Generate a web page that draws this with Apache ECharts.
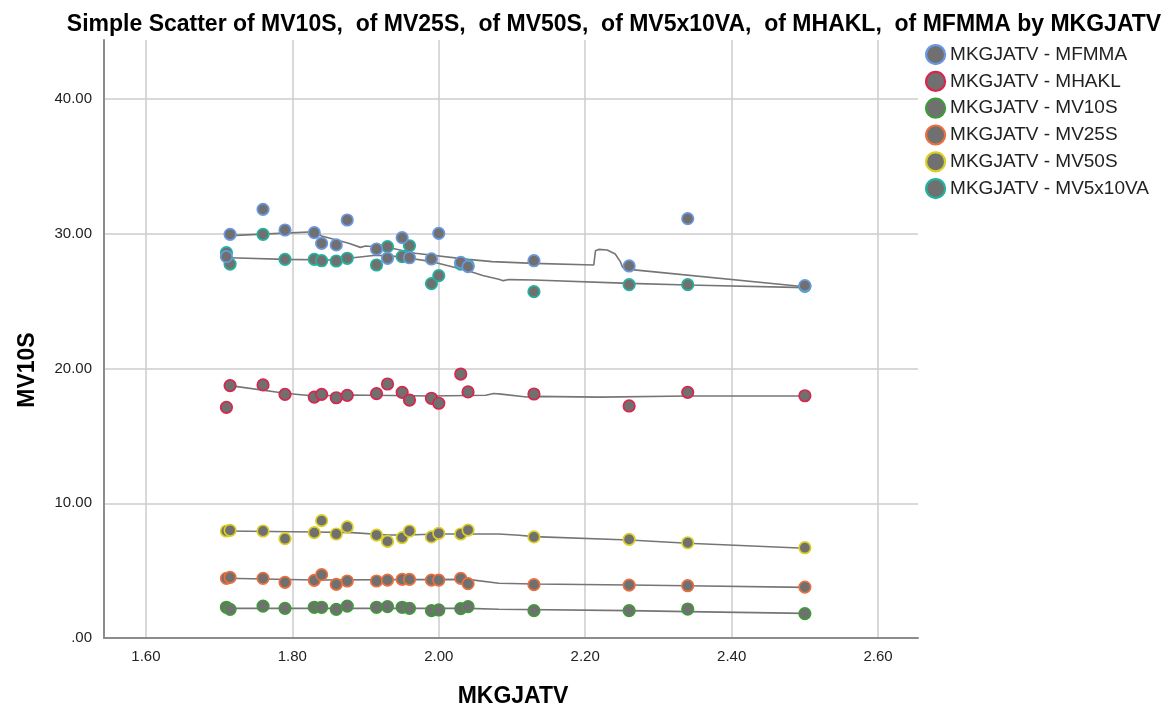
<!DOCTYPE html>
<html>
<head>
<meta charset="utf-8">
<title>Simple Scatter by MKGJATV</title>
<script src="https://cdn.jsdelivr.net/npm/echarts@6/dist/echarts.min.js"></script>
<style>
  html, body { margin: 0; padding: 0; background: #ffffff; }
  #chart { width: 1172px; height: 713px; }
</style>
</head>
<body>
<div id="chart"></div>
<script>
// Case values of the predictor (shared by every plotted variable)
const MKGJATV = [1.71, 1.715, 1.76, 1.79, 1.83, 1.84, 1.86, 1.875, 1.915, 1.93,
                 1.95, 1.96, 1.99, 2.00, 2.03, 2.04, 2.13, 2.26, 2.34, 2.50];

// Dependent variables, one value per case
const MV10S    = [2.28, 2.13, 2.37, 2.20, 2.28, 2.28, 2.13, 2.37, 2.28, 2.33,
                  2.28, 2.20, 2.03, 2.08, 2.18, 2.33, 2.03, 2.03, 2.15, 1.81];
const MV25S    = [4.43, 4.50, 4.43, 4.13, 4.28, 4.70, 3.98, 4.23, 4.23, 4.30,
                  4.35, 4.35, 4.30, 4.30, 4.43, 4.03, 3.96, 3.93, 3.88, 3.78];
const MV50S    = [7.94, 7.99, 7.94, 7.37, 7.82, 8.71, 7.72, 8.24, 7.64, 7.17,
                  7.45, 7.94, 7.50, 7.77, 7.72, 8.01, 7.50, 7.32, 7.07, 6.70];
const MV5x10VA = [28.60, 27.75, 29.96, 28.10, 28.10, 28.00, 27.98, 28.18, 27.68, 29.04,
                  28.30, 29.11, 26.30, 26.89, 27.75, 27.65, 25.70, 26.22, 26.22, 26.10];
const MHAKL    = [17.12, 18.73, 18.78, 18.08, 17.88, 18.08, 17.83, 18.01, 18.13, 18.85,
                  18.23, 17.66, 17.79, 17.42, 19.59, 18.26, 18.11, 17.22, 18.23, 17.98];
const MFMMA    = [28.30, 29.96, 31.81, 30.28, 30.08, 29.29, 29.17, 31.02, 28.87, 28.18,
                  29.71, 28.22, 28.13, 30.03, 27.88, 27.56, 28.00, 27.61, 31.12, 26.15];

// Loess fit lines (x positions and fitted values)
const fitMV10S_x = [1.71, 2.04, 2.082, 2.26, 2.34, 2.50];
const fitMV10S_y = [2.20, 2.20, 2.13, 2.03, 1.96, 1.83];
const fitMV25S_x = [1.71, 1.83, 2.04, 2.082, 2.13, 2.26, 2.34, 2.50];
const fitMV25S_y = [4.43, 4.30, 4.35, 4.06, 4.01, 3.93, 3.88, 3.76];
const fitMV50S_x = [1.71, 1.83, 1.882, 1.93, 1.956, 2.00, 2.082, 2.11, 2.13, 2.26, 2.34, 2.50];
const fitMV50S_y = [7.94, 7.87, 7.82, 7.64, 7.64, 7.72, 7.72, 7.62, 7.52, 7.27, 7.03, 6.66];
const fitMV5x10VA_x = [1.715, 1.79, 1.855, 1.914, 1.946, 1.991, 2.04, 2.06, 2.082, 2.088, 2.096, 2.13, 2.26, 2.34, 2.50];
const fitMV5x10VA_y = [28.22, 28.10, 28.05, 28.40, 28.30, 27.93, 27.25, 26.90, 26.62, 26.52, 26.60, 26.57, 26.32, 26.20, 26.00];
const fitMHAKL_x = [1.715, 1.79, 1.83, 1.877, 1.99, 2.064, 2.075, 2.085, 2.12, 2.13, 2.22, 2.34, 2.50];
const fitMHAKL_y = [18.73, 18.16, 17.96, 18.03, 17.96, 18.01, 18.14, 18.10, 17.88, 17.93, 17.88, 17.96, 17.96];
const fitMFMMA_x = [1.715, 1.79, 1.83, 1.84, 1.877, 1.893, 1.90, 1.936, 1.968, 2.04, 2.073, 2.13,
                    2.2117, 2.214, 2.2185, 2.230, 2.241, 2.248, 2.251, 2.26, 2.50];
const fitMFMMA_y = [29.86, 30.05, 30.15, 29.83, 29.29, 28.99, 29.09, 28.92, 28.55, 28.10, 27.93, 27.80,
                    27.68, 28.74, 28.84, 28.79, 28.50, 27.93, 27.51, 27.36, 26.07];

// Axis tick labels
const xTicks = [1.60, 1.80, 2.00, 2.20, 2.40, 2.60];
const yTicks = [0, 10, 20, 30, 40];

const pointFill = '#707070';
const fitColor = '#757575';
const FONT = '"Liberation Sans", Arial, sans-serif';

// Drawing order: first variable at the bottom, MFMMA on top
const variables = [
  { name: 'MKGJATV - MV10S',    y: MV10S,    fx: fitMV10S_x,    fy: fitMV10S_y,    color: '#3f9a3a' },
  { name: 'MKGJATV - MV25S',    y: MV25S,    fx: fitMV25S_x,    fy: fitMV25S_y,    color: '#ec6f3c' },
  { name: 'MKGJATV - MV50S',    y: MV50S,    fx: fitMV50S_x,    fy: fitMV50S_y,    color: '#dacf22' },
  { name: 'MKGJATV - MV5x10VA', y: MV5x10VA, fx: fitMV5x10VA_x, fy: fitMV5x10VA_y, color: '#20b39f' },
  { name: 'MKGJATV - MHAKL',    y: MHAKL,    fx: fitMHAKL_x,    fy: fitMHAKL_y,    color: '#d8264c' },
  { name: 'MKGJATV - MFMMA',    y: MFMMA,    fx: fitMFMMA_x,    fy: fitMFMMA_y,    color: '#6a98e2' }
];

const legendOrder = ['MKGJATV - MFMMA', 'MKGJATV - MHAKL', 'MKGJATV - MV10S',
                     'MKGJATV - MV25S', 'MKGJATV - MV50S', 'MKGJATV - MV5x10VA'];

const zip = (xs, ys) => xs.map((v, i) => [v, ys[i]]);

const series = [];
variables.forEach(v => {
  series.push({
    name: v.name + ' fit',
    type: 'line',
    data: zip(v.fx, v.fy),
    showSymbol: false,
    symbol: 'none',
    silent: true,
    z: 2,
    lineStyle: { color: fitColor, width: 1.6 },
    emphasis: { disabled: true }
  });
});
variables.forEach(v => {
  series.push({
    name: v.name,
    type: 'scatter',
    data: zip(MKGJATV, v.y),
    symbol: 'circle',
    symbolSize: 11.5,
    z: 3,
    itemStyle: { color: pointFill, borderColor: v.color, borderWidth: 1.7, opacity: 1 },
    emphasis: { disabled: true }
  });
});

const chart = echarts.init(document.getElementById('chart'), null, { renderer: 'canvas' });
chart.setOption({
  animation: false,
  backgroundColor: '#ffffff',
  title: {
    text: 'Simple Scatter of MV10S,  of MV25S,  of MV50S,  of MV5x10VA,  of MHAKL,  of MFMMA by MKGJATV',
    left: 609,
    textAlign: 'center',
    top: 8,
    textStyle: { fontFamily: FONT, fontSize: 23, fontWeight: 'bold', color: '#000000' }
  },
  legend: {
    data: legendOrder,
    orient: 'vertical',
    left: 925,
    top: 44,
    padding: 0,
    itemWidth: 19,
    itemHeight: 19,
    itemGap: 5.6,
    icon: 'circle',
    itemStyle: { borderWidth: 2.2 },
    textStyle: { fontFamily: FONT, fontSize: 19, color: '#222222', lineHeight: 19 },
    selectedMode: false
  },
  grid: { left: 104, right: 254, top: 40, bottom: 75, containLabel: false },
  xAxis: {
    type: 'value',
    min: 1.5428,
    max: 2.6545,
    axisLine: { show: true, onZero: false, lineStyle: { color: '#8c8c8c', width: 2 } },
    axisTick: { show: false, customValues: xTicks },
    axisLabel: {
      customValues: xTicks,
      formatter: v => v.toFixed(2),
      margin: 11,
      fontFamily: FONT, fontSize: 15, color: '#222222'
    },
    splitLine: { show: true, lineStyle: { color: '#cccccc', width: 1.5 } }
  },
  yAxis: {
    type: 'value',
    min: 0,
    max: 44.38,
    axisLine: { show: true, onZero: false, lineStyle: { color: '#8c8c8c', width: 2 } },
    axisTick: { show: false, customValues: yTicks },
    axisLabel: {
      customValues: yTicks,
      formatter: v => (v === 0 ? '.00' : v.toFixed(2)),
      margin: 12,
      fontFamily: FONT, fontSize: 15, color: '#222222'
    },
    splitLine: { show: true, showMinLine: false, lineStyle: { color: '#cccccc', width: 1.5 } }
  },
  graphic: [
    {
      type: 'text',
      x: 513, y: 697,
      style: {
        text: 'MKGJATV', fontFamily: FONT, fontSize: 23, fontWeight: 'bold',
        fill: '#000000', align: 'center', verticalAlign: 'middle'
      }
    },
    {
      type: 'text',
      x: 28, y: 370,
      rotation: Math.PI / 2,
      style: {
        text: 'MV10S', fontFamily: FONT, fontSize: 23, fontWeight: 'bold',
        fill: '#000000', align: 'center', verticalAlign: 'middle'
      }
    }
  ],
  series: series
});
</script>
</body>
</html>
